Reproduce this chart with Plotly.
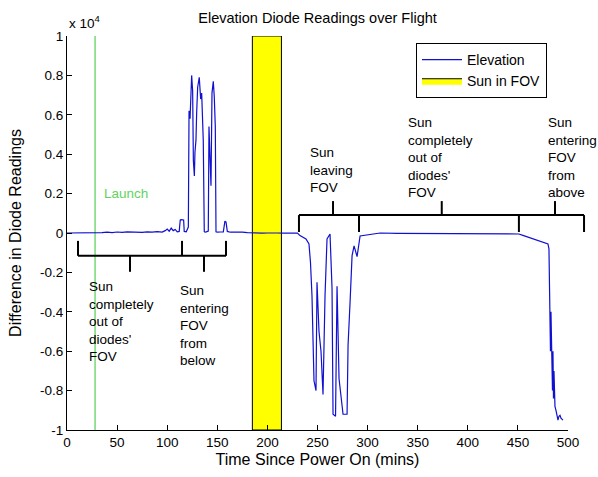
import plotly.graph_objects as go

# ---------------- data ----------------
time_min = [0, 5, 10, 15, 20, 25, 30, 35, 40, 45, 50, 55, 60, 65, 70, 75, 80, 85, 90, 95,
            98, 100, 102, 104, 106, 108, 110, 112, 113, 113.7, 116.4, 117, 119,
            121.1, 121.8, 122.8, 124.4, 125.4, 126.1, 127.1, 127.7, 128.7, 129.4, 130.4,
            132.0, 133.4, 134.4, 135.4, 136.0, 137.0, 137.7, 139, 141.0, 141.7, 142.7,
            143.7, 144.7, 146.0, 147.0, 148.0, 148.7, 150, 153, 156, 157.6, 158.7, 160,
            163, 166, 170, 175, 180, 185, 190, 195, 200, 205, 210, 215, 220, 225, 230,
            232.5, 235.5, 238.5, 241.5, 243, 244.5, 246.5, 248.5, 249.5, 251.5, 253.5,
            255.5, 257.5, 259.5, 262.5, 264.5, 265.5, 268, 269.5, 271.5, 273.5, 275.5,
            279.5, 280.5, 282.5, 284.5, 286.5, 289.5, 292.5, 299.5, 312.5, 330, 360, 400,
            430, 451, 455, 460, 470, 480, 481, 482, 482.5, 483, 483.5, 484, 484.5, 485,
            485.5, 486, 487, 488, 489, 490, 491, 492, 493, 494, 495]
elevation = [0, 0, -10, 0, 10, 0, -10, 20, 40, 20, 50, 30, 60, 40, 50, 30, 60, 40, 70, 50,
             120, 200, 90, 250, 120, 180, 60, 80, 660, 680, 660, 80, 60,
             300, 6200, 5800, 8000, 7200, 3700, 2900, 4100, 4700, 6100, 7400,
             7900, 6800, 7100, 5800, 4700, 80, 50, 60, 100, 5400, 4100,
             2400, 7100, 7700, 6900, 5400, 60, 40, 50, 60, 600, 550, 80,
             40, 50, 30, 40, 20, 0, 10, -10, 0, 10, 0, -10, 0, 10, 0,
             -130, -200, -300, -550, -1500, -3200, -7500, -8000, -2500, -5000, -6000,
             -8200, -3200, -300, -50, -2800, -9200, -9300, -2700, -7400, -8500, -9200,
             -9200, -5700, -3500, -1150, -650, -1200, -150, -100, 0, -20, -20, -30,
             -40, -50, -120, -200, -380, -550, -800, -3500, -6000, -4000, -6500, -5700, -8000, -6000,
             -8400, -7000, -8800, -9000, -9400, -9500, -9300, -9250, -9400, -9450, -9500]

launch_time = 28
sun_start, sun_end = 185, 214

x_ticks = [0, 50, 100, 150, 200, 250, 300, 350, 400, 450, 500]
y_ticks = [-10000, -8000, -6000, -4000, -2000, 0, 2000, 4000, 6000, 8000, 10000]
y_tick_labels = ["-1", "-0.8", "-0.6", "-0.4", "-0.2", "0", "0.2", "0.4", "0.6", "0.8", "1"]

X_RANGE = [0, 500]
Y_RANGE = [-10000, 10000]

# bracket annotations (data units)
upper_bracket = dict(y=910, x0=231.5, x1=516, end_ticks=[231.5, 291.4, 451, 516], end_to=50,
                     label_ticks=[265.5, 374, 487], label_to=1620)
lower_bracket = dict(y=-1160, x0=11, x1=158.7, end_ticks=[11, 114.8, 158.7], end_to=-400,
                     label_ticks=[62.9, 136.7], label_to=-1970)

notes = [
    ("Sun<br>leaving<br>FOV", 240.5, 4550),
    ("Sun<br>completely<br>out of<br>diodes'<br>FOV", 338.3, 6100),
    ("Sun<br>entering<br>FOV<br>from<br>above", 478, 6100),
    ("Sun<br>completely<br>out of<br>diodes'<br>FOV", 20, -2230),
    ("Sun<br>entering<br>FOV<br>from<br>below", 110.8, -2430),
]

FONT = "Liberation Sans, Arial, sans-serif"
GREEN = "#5fd35f"


def px(t):
    return (t - X_RANGE[0]) / (X_RANGE[1] - X_RANGE[0])


def py(v):
    return (v - Y_RANGE[0]) / (Y_RANGE[1] - Y_RANGE[0])


fig = go.Figure()

fig.add_trace(go.Scatter(
    x=[sun_start, sun_end, sun_end, sun_start, sun_start],
    y=[Y_RANGE[0], Y_RANGE[0], Y_RANGE[1], Y_RANGE[1], Y_RANGE[0]],
    fill="toself", fillcolor="#ffff00", mode="lines",
    line=dict(color="black", width=1), name="Sun in FOV", legendrank=2,
    hoverinfo="skip"))

fig.add_trace(go.Scatter(
    x=[launch_time, launch_time], y=Y_RANGE, mode="lines",
    line=dict(color=GREEN, width=1.3), showlegend=False, hoverinfo="skip"))

fig.add_trace(go.Scatter(
    x=time_min, y=elevation, mode="lines",
    line=dict(color="#1010d0", width=1.2), name="Elevation", legendrank=1))

shapes = []


def bracket(b):
    lw = dict(color="black", width=2)
    shapes.append(dict(type="line", xref="paper", yref="paper",
                       x0=px(b["x0"]), x1=px(b["x1"]), y0=py(b["y"]), y1=py(b["y"]), line=lw))
    for t in b["end_ticks"]:
        shapes.append(dict(type="line", xref="paper", yref="paper",
                           x0=px(t), x1=px(t), y0=py(b["y"]), y1=py(b["end_to"]), line=lw))
    for t in b["label_ticks"]:
        shapes.append(dict(type="line", xref="paper", yref="paper",
                           x0=px(t), x1=px(t), y0=py(b["y"]), y1=py(b["label_to"]), line=lw))


bracket(upper_bracket)
bracket(lower_bracket)

annotations = []
for txt, t, v in notes:
    annotations.append(dict(text=txt, x=t, y=v, xref="x", yref="y", xanchor="left",
                            yanchor="top", align="left", showarrow=False,
                            font=dict(family=FONT, size=13.5, color="black")))
annotations.append(dict(text="Launch", x=35, y=2020, xref="x", yref="y", xanchor="left",
                        yanchor="middle", showarrow=False,
                        font=dict(family=FONT, size=13.5, color=GREEN)))
annotations.append(dict(text="x 10<sup>4</sup>", x=0, y=1.035, xref="paper", yref="paper",
                        xanchor="left", yanchor="middle", showarrow=False,
                        font=dict(family=FONT, size=13.5, color="black")))

fig.update_layout(
    width=598, height=477,
    margin=dict(l=67, r=30, t=36, b=45),
    paper_bgcolor="white", plot_bgcolor="white",
    font=dict(family=FONT, size=13.5, color="black"),
    title=dict(text="Elevation Diode Readings over Flight", x=0.531, xanchor="center",
               y=1 - 18 / 477, yanchor="middle", font=dict(family=FONT, size=14.5)),
    showlegend=True,
    legend=dict(x=(416 - 67) / 501, y=(432 - 43) / 396, xanchor="left", yanchor="top",
                bordercolor="black", borderwidth=1, bgcolor="white",
                font=dict(family=FONT, size=14), itemwidth=40, tracegroupgap=0),
    shapes=shapes, annotations=annotations,
)
fig.update_xaxes(range=X_RANGE, tickvals=x_ticks, ticks="inside", ticklen=5,
                 tickcolor="black", showline=True, linecolor="black", linewidth=1,
                 showgrid=False, zeroline=False,
                 title=dict(text="Time Since Power On (mins)", standoff=4))
fig.update_yaxes(range=Y_RANGE, tickvals=y_ticks, ticktext=y_tick_labels, ticks="inside",
                 ticklen=5, tickcolor="black", showline=True, linecolor="black", linewidth=1,
                 showgrid=False, zeroline=False,
                 title=dict(text="Difference in Diode Readings", standoff=14))

fig.write_html("out.html")
